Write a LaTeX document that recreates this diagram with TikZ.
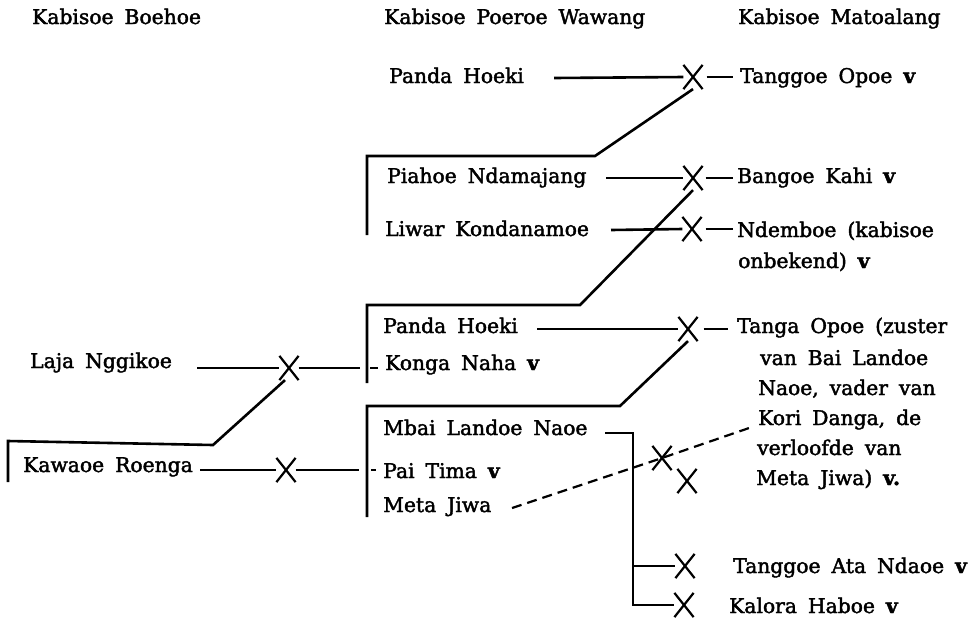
\documentclass[tikz,border=0pt]{standalone}
\usepackage{fontspec}
\setmainfont[WordSpace=1.7,FakeBold=2]{DejaVu Serif}
\usetikzlibrary{shapes.misc}
\begin{document}
\begin{tikzpicture}[x=1pt,y=-1pt,
  lbl/.style={anchor=base west,inner sep=0pt,font=\fontsize{20.3}{24}\selectfont},
  xm/.style={cross out,draw,line width=2.2pt,minimum width=17pt,minimum height=22pt,inner sep=0pt},
  ln/.style={line width=2.6pt},
  dl/.style={line width=2.2pt,dash pattern=on 10pt off 6pt}]
\useasboundingbox (0,0) rectangle (973,619);
% headers
\node[lbl] (h1) at (32,24) {Kabisoe Boehoe};
\node[lbl] (h2) at (384,24) {Kabisoe Poeroe Wawang};
\node[lbl] (h3) at (738,24) {Kabisoe Matoalang};
% top group
\node[lbl] (ph1) at (389,83) {Panda Hoeki};
\node[xm] (x1) at (693,77) {};
\node[lbl] (to1) at (740,83) {Tanggoe Opoe \textbf{v}};
\node[lbl] (pn) at (387,183) {Piahoe Ndamajang};
\node[xm] (x2) at (693,178) {};
\node[lbl] (bk) at (737,183) {Bangoe Kahi \textbf{v}};
\node[lbl] (lk) at (385,236) {Liwar Kondanamoe};
\node[xm] (x3) at (692,229) {};
\node[lbl] (nd1) at (737,237) {Ndemboe (kabisoe};
\node[lbl] (nd2) at (738,268) {onbekend) \textbf{v}};
% middle group
\node[lbl] (ph2) at (383,333) {Panda Hoeki};
\node[xm] (x4) at (688,329) {};
\node[lbl] (tg1) at (737,333) {Tanga Opoe (zuster};
\node[lbl] (tg2) at (760,365) {van Bai Landoe};
\node[lbl] (tg3) at (758,395) {Naoe, vader van};
\node[lbl] (tg4) at (758,425) {Kori Danga, de};
\node[lbl] (tg5) at (757,455) {verloofde van};
\node[lbl] (tg6) at (756,485) {Meta Jiwa) \textbf{v.}};
\node[lbl] (kn) at (385,370) {Konga Naha \textbf{v}};
% left
\node[lbl] (lj) at (30,368) {Laja Nggikoe};
\node[xm] (x5) at (289,368) {};
\node[lbl] (kr) at (23,472) {Kawaoe Roenga};
\node[xm] (x6) at (286,470) {};
% bottom group
\node[lbl] (mb) at (383,435) {Mbai Landoe Naoe};
\node[lbl] (pt) at (383,478) {Pai Tima \textbf{v}};
\node[lbl] (mj) at (383,512) {Meta Jiwa};
\node[xm] (x9) at (662,458) {};
\node[xm] (x10) at (687,481) {};
\node[xm] (x7) at (685,566) {};
\node[xm] (x8) at (684,605) {};
\node[lbl] (ta) at (733,573) {Tanggoe Ata Ndaoe \textbf{v}};
\node[lbl] (kh) at (729,613) {Kalora Haboe \textbf{v}};
% coordinates
\coordinate (a1) at (554,78);
\coordinate (b1) at (595,156);
\coordinate (c1) at (367,156);
\coordinate (d1) at (367,235);
\coordinate (a2) at (606,178);
\coordinate (a3) at (611,230);
\coordinate (b2) at (580,305);
\coordinate (c2) at (367,305);
\coordinate (d2) at (367,383);
\coordinate (a4) at (537,329);
\coordinate (b4) at (620,406);
\coordinate (c4) at (367,406);
\coordinate (d4) at (367,517);
\coordinate (a5) at (197,368);
\coordinate (e5) at (360,368);
\coordinate (b5) at (213,445);
\coordinate (c5) at (8,441);
\coordinate (d5) at (8,482);
\coordinate (a6) at (200,470);
\coordinate (e6) at (359,470);
\coordinate (m1) at (605,433);
\coordinate (m2) at (633,433);
\coordinate (m3) at (633,566);
\coordinate (m4) at (633,605);
\coordinate (dj) at (512,508);
\coordinate (dk) at (752,427);
% connectors top
\draw[ln] (a1) -- (x1.west);
\draw[ln] ([xshift=4pt]x1.east) -- ([xshift=-7pt]to1.west |- x1.east);
\draw[ln] (x1.south) -- (b1) -- (c1) -- (d1);
\draw[ln] (a2) -- (x2.west);
\draw[ln] ([xshift=3pt]x2.east) -- ([xshift=-4pt]bk.west |- x2.east);
\draw[ln] (a3) -- (x3.west);
\draw[ln] ([xshift=4pt]x3.east) -- ([xshift=-4pt]nd1.west |- x3.east);
\draw[ln] (x2.south) -- (b2) -- (c2) -- (d2);
% middle
\draw[ln] (a4) -- (x4.west);
\draw[ln] ([xshift=6pt]x4.east) -- ([xshift=-9pt]tg1.west |- x4.east);
\draw[ln] (x4.south) -- (b4) -- (c4) -- (d4);
\draw[ln] ([xshift=-15pt]kn.west |- e5) -- ([xshift=-7pt]kn.west |- e5);
% left
\draw[ln] (a5) -- (x5.west);
\draw[ln] (x5.east) -- (e5);
\draw[ln] ([xshift=-4pt]x5.south) -- (b5) -- (c5) -- (d5);
\draw[ln] (a6) -- (x6.west);
\draw[ln] (x6.east) -- (e6);
\draw[ln] ([xshift=-12pt]pt.west |- e6) -- ([xshift=-7pt]pt.west |- e6);
% bottom
\draw[ln] (m1) -- (m2) -- (m4) -- (x8.west);
\draw[ln] (m3) -- (x7.west);
\draw[dl] (dj) -- (x9.center) -- (dk);
\end{tikzpicture}
\end{document}
